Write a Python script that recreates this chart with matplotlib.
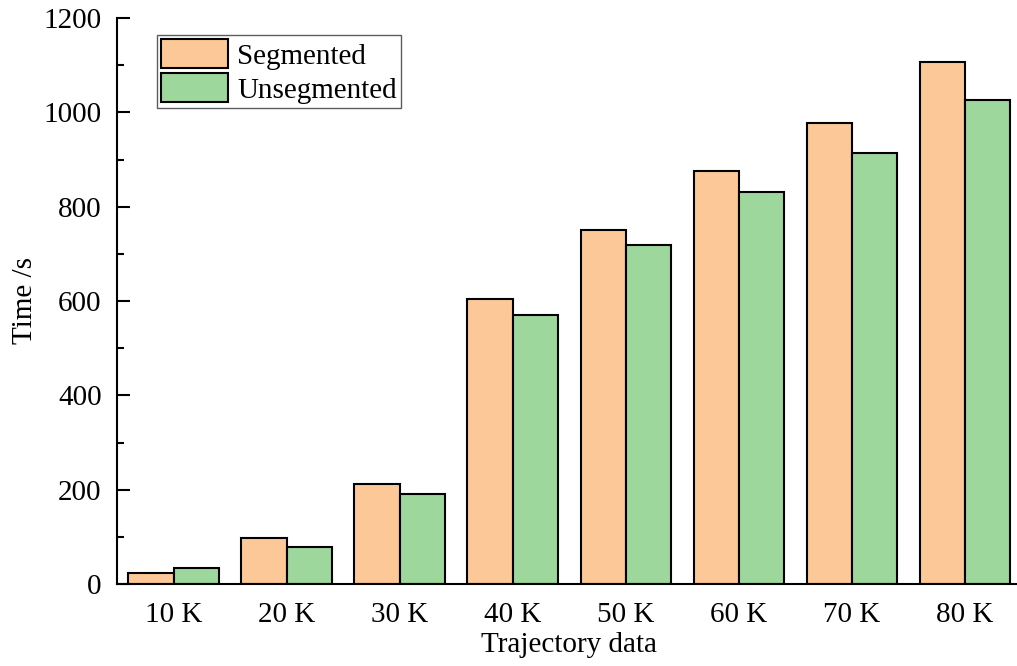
import matplotlib
matplotlib.use('Agg')
import matplotlib.pyplot as plt
import numpy as np

plt.rcParams['font.family'] = ['Liberation Serif', 'DejaVu Serif']

categories = ['10 K', '20 K', '30 K', '40 K', '50 K', '60 K', '70 K', '80 K']
segmented = [24, 98, 212, 604, 750, 876, 977, 1107]
unsegmented = [33, 79, 191, 570, 719, 831, 913, 1026]

fs = 21

fig = plt.figure(figsize=(10.17, 6.66), dpi=100)
ax = fig.add_axes([117 / 1017, 82 / 666, 904.5 / 1017, 566 / 666])

x = np.arange(len(categories))
w = 0.4
ax.bar(x - w / 2, segmented, w, color='#FDC897', edgecolor='black', linewidth=1.5, label='Segmented')
ax.bar(x + w / 2, unsegmented, w, color='#9ED79C', edgecolor='black', linewidth=1.5, label='Unsegmented')

ax.set_xlim(-0.5, len(categories) - 0.5)
ax.set_ylim(0, 1200)
ax.set_xticks(x)
ax.set_xticklabels(categories)
ax.set_yticks(np.arange(0, 1201, 200))
ax.set_yticks(np.arange(100, 1200, 200), minor=True)

ax.spines['top'].set_visible(False)
ax.spines['right'].set_visible(False)
for s in ('left', 'bottom'):
    ax.spines[s].set_linewidth(1.5)

ax.tick_params(axis='y', which='major', direction='in', length=9, width=1.5, labelsize=fs, pad=11)
ax.tick_params(axis='y', which='minor', direction='in', length=5, width=1.5)
ax.tick_params(axis='x', length=0, labelsize=fs, pad=13)

ax.set_xlabel('Trajectory data', fontsize=fs, labelpad=3)
ax.set_ylabel('Time /s', fontsize=fs, labelpad=4)

leg = ax.legend(loc='upper left', bbox_to_anchor=(157 / 1017, 1 - 35 / 666),
                bbox_transform=fig.transFigure, fontsize=fs, frameon=True,
                fancybox=False, borderaxespad=0, borderpad=0.15,
                handlelength=2.3, handleheight=1.15, handletextpad=0.3,
                labelspacing=0.12)
leg.get_frame().set_edgecolor('#333333')
leg.get_frame().set_linewidth(1.0)

fig.savefig('out.png', dpi=100)
